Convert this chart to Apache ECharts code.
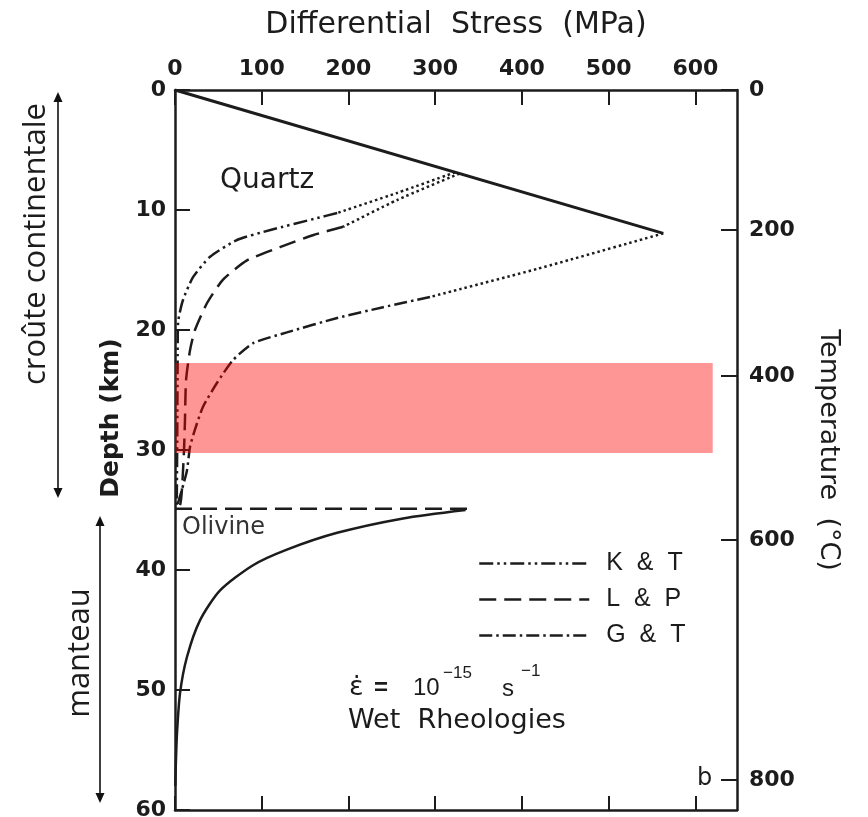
<!DOCTYPE html>
<html>
<head>
<meta charset="utf-8">
<script src="https://cdn.jsdelivr.net/npm/echarts@6/dist/echarts.min.js"></script>
<style>
  html, body { margin: 0; padding: 0; background: #fff; }
  #chart { width: 868px; height: 817px; }
</style>
</head>
<body>
<div id="chart"></div>
<script>
// ---- axis ticks ----
const stressTicks = [0, 100, 200, 300, 400, 500, 600];      // MPa
const depthMax = 60;                                         // km
const stressMax = 648;                                       // MPa at the right frame
const tempLabels = [0, 200, 400, 600, 800];                  // deg C
const tempDepths = [0, 11.67, 23.83, 37.5, 57.5];            // km where each isotherm sits

// ---- quartz frictional (brittle) line ----
const brittleStress = [0, 563];
const brittleDepth  = [0, 11.95];

// ---- K & T (Koch & Tullis) ----
const ktDotStress = [323, 256, 187];
const ktDotDepth  = [6.86, 8.58, 10.25];
const ktStress = [187, 164, 110, 71.5, 40.4, 20.8, 9.2, 3.5, 3, 2.5, 2];
const ktDepth  = [10.25, 10.67, 11.67, 12.5, 13.9, 15.6, 17.5, 19.4, 23, 30, 34.9];

// ---- L & P (Luan & Paterson) ----
const lpDotStress = [328, 256, 194];
const lpDotDepth  = [6.96, 9.17, 11.4];
const lpStress = [194, 159, 121, 83, 55.4, 37, 23, 17.3, 12.7, 11.5, 10.4, 8, 5.8, 0];
const lpDepth  = [11.4, 12.1, 13.1, 14.2, 15.8, 17.75, 20, 21.7, 24.2, 27.5, 30, 33.3, 34.6, 34.9];
const mohoStress = [0, 343];
const mohoDepth  = [34.9, 34.9];

// ---- G & T (Gleason & Tullis) ----
const gtDotStress = [563, 418, 294];
const gtDotDepth  = [11.95, 14.9, 17.25];
const gtStress = [294, 240, 187, 129, 90, 67, 48.5, 32.3, 23, 17.3, 13.8, 8, 3.5, 1];
const gtDepth  = [17.25, 18.1, 19.0, 20.2, 21.1, 22.5, 24.4, 26.4, 28.3, 29.75, 31.7, 33.3, 34.4, 34.9];

// ---- olivine (mantle) ----
const olStress = [335, 263, 187, 129, 90, 52, 28.8, 13.8, 5.8, 2.3, 1, 0.3];
const olDepth  = [35, 35.7, 36.9, 38.3, 39.6, 41.7, 44.2, 47.25, 50.25, 53.6, 56.1, 58];

// ---- highlighted depth band ----
const bandStress = [0, 620];
const bandDepth  = [22.75, 30.25];

const INK = '#1c1c1c';
const pairs = (xs, ys) => xs.map((x, i) => [x, ys[i]]);

const DASH_KT = [14, 4, 2.5, 4, 2.5, 4];
const DASH_LP = [17, 8];
const DASH_GT = [13, 4, 2.5, 4];
const DOTS    = [2.5, 3];

function curve(name, xs, ys, dash, width, smooth) {
  return {
    type: 'line', name: name, data: pairs(xs, ys),
    xAxisIndex: 0, yAxisIndex: 0,
    symbol: 'none', smooth: smooth === undefined ? 0.2 : smooth,
    silent: true, z: 3,
    lineStyle: { color: INK, width: width || 2.5, type: dash, cap: 'butt' }
  };
}

const tickLabel = { fontFamily: 'DejaVu Sans', fontWeight: 'bold', fontSize: 22, color: INK };
const frame = { show: true, onZero: false, lineStyle: { color: INK, width: 2.5 } };

function arrow(x, y1, y2) {
  const h = 10, w = 4.5;
  return [
    { type: 'line', shape: { x1: x, y1: y1 + h - 2, x2: x, y2: y2 - h + 2 }, style: { stroke: '#111', lineWidth: 1.6 } },
    { type: 'polygon', shape: { points: [[x, y1], [x - w, y1 + h], [x + w, y1 + h]] }, style: { fill: '#111' } },
    { type: 'polygon', shape: { points: [[x, y2], [x - w, y2 - h], [x + w, y2 - h]] }, style: { fill: '#111' } }
  ];
}

function label(text, x, y, font, opts) {
  return Object.assign({
    type: 'text', x: x, y: y,
    style: Object.assign({ text: text, font: font, fill: INK, align: 'left', verticalAlign: 'middle' }, (opts && opts.style) || {})
  }, (opts && opts.el) || {});
}

const chart = echarts.init(document.getElementById('chart'), null, { renderer: 'canvas' });

chart.setOption({
  animation: false,
  backgroundColor: '#ffffff',
  grid: { left: 175, top: 90, width: 562, height: 720, containLabel: false, outerBoundsMode: 'none' },
  xAxis: [
    {
      type: 'value', position: 'top', min: 0, max: stressMax,
      name: 'Differential  Stress  (MPa)', nameLocation: 'middle', nameGap: 50,
      nameTextStyle: { fontFamily: 'DejaVu Sans', fontSize: 30, color: INK },
      axisLine: frame,
      axisTick: { show: true, inside: true, length: 15, customValues: stressTicks, lineStyle: { color: INK, width: 2 } },
      axisLabel: Object.assign({ margin: 10, customValues: stressTicks }, tickLabel),
      splitLine: { show: false }
    },
    {
      type: 'value', position: 'bottom', min: 0, max: stressMax,
      axisLine: frame,
      axisTick: { show: true, inside: true, length: 14, customValues: stressTicks, lineStyle: { color: INK, width: 2 } },
      axisLabel: { show: false },
      splitLine: { show: false }
    }
  ],
  yAxis: [
    {
      type: 'value', position: 'left', inverse: true, min: 0, max: depthMax, interval: 10,
      axisLine: frame,
      axisTick: { show: true, inside: true, length: 15, lineStyle: { color: INK, width: 2 } },
      axisLabel: Object.assign({ margin: 9 }, tickLabel),
      splitLine: { show: false }
    },
    {
      type: 'value', position: 'right', inverse: true, min: 0, max: depthMax,
      name: 'Temperature  (°C)', nameLocation: 'middle', nameGap: 78, nameRotate: -90,
      nameTextStyle: { fontFamily: 'DejaVu Sans', fontSize: 27, color: INK },
      axisLine: frame,
      axisTick: { show: true, inside: true, length: 16, customValues: tempDepths, lineStyle: { color: INK, width: 2 } },
      axisLabel: Object.assign({
        margin: 12, customValues: tempDepths,
        formatter: v => String(tempLabels[tempDepths.indexOf(v)])
      }, tickLabel),
      splitLine: { show: false }
    }
  ],
  legend: {
    data: ['K & T', 'L & P', 'G & T'],
    orient: 'vertical', left: 478, top: 551, padding: 0,
    itemWidth: 110, itemHeight: 24, itemGap: 11,
    selectedMode: false,
    itemStyle: { opacity: 0 },
    lineStyle: { width: 2.5 },
    formatter: n => n.replace(/ /g, '  '),
    textStyle: { fontFamily: 'Liberation Sans', fontSize: 25, color: INK, lineHeight: 24, padding: [0, 0, 0, 12] }
  },
  series: [
    curve('Quartz brittle', brittleStress, brittleDepth, 'solid', 3, false),
    curve('K & T', ktStress, ktDepth, DASH_KT),
    curve('K & T transition', ktDotStress, ktDotDepth, DOTS),
    curve('L & P', lpStress, lpDepth, DASH_LP),
    curve('L & P transition', lpDotStress, lpDotDepth, DOTS),
    curve('L & P Moho', mohoStress, mohoDepth, DASH_LP, 2.5, false),
    curve('G & T', gtStress, gtDepth, DASH_GT),
    curve('G & T transition', gtDotStress, gtDotDepth, DOTS),
    curve('Olivine', olStress, olDepth, 'solid', 2.5, 0.25),
    {
      type: 'custom', name: 'band', xAxisIndex: 0, yAxisIndex: 0, z: 10, silent: true,
      data: [[bandStress[0], bandDepth[0], bandStress[1], bandDepth[1]]],
      renderItem: (params, api) => {
        const a = api.coord([api.value(0), api.value(1)]);
        const b = api.coord([api.value(2), api.value(3)]);
        return {
          type: 'rect',
          shape: { x: a[0], y: a[1], width: b[0] - a[0], height: b[1] - a[1] },
          style: { fill: 'rgba(255,0,0,0.41)' }
        };
      }
    }
  ],
  graphic: [
    // in-plot labels
    label('Quartz', 220, 181, '28px "DejaVu Sans"'),
    label('Olivine', 182, 528, '24px "DejaVu Sans"', { style: { fill: '#333' } }),
    // strain rate and rheology note
    label('ε\u0307', 349, 688, '27px "DejaVu Sans"'),
    label('=', 374, 688, 'bold 24px "Liberation Sans"'),
    label('10', 413, 688, '24px "Liberation Sans"'),
    label('\u221215', 443, 673, '17px "Liberation Sans"'),
    label('s', 502, 689, '24px "Liberation Sans"'),
    label('\u22121', 521, 671, '17px "Liberation Sans"'),
    label('Wet  Rheologies', 348, 721, '27px "DejaVu Sans"'),
    label('b', 697, 779, '24px "DejaVu Sans"'),
    // left axis title
    label('Depth (km)', 111, 418, 'bold 25px "DejaVu Sans"', { style: { align: 'center' }, el: { rotation: Math.PI / 2 } }),
    // crust / mantle annotations
    label('croûte continentale', 36, 244, '31px "Open Sans"', { style: { align: 'center' }, el: { rotation: Math.PI / 2 } }),
    label('manteau', 80, 653, '31px "Open Sans"', { style: { align: 'center' }, el: { rotation: Math.PI / 2 } })
  ].concat(arrow(58, 92, 498), arrow(100, 516, 803))
});
</script>
</body>
</html>
